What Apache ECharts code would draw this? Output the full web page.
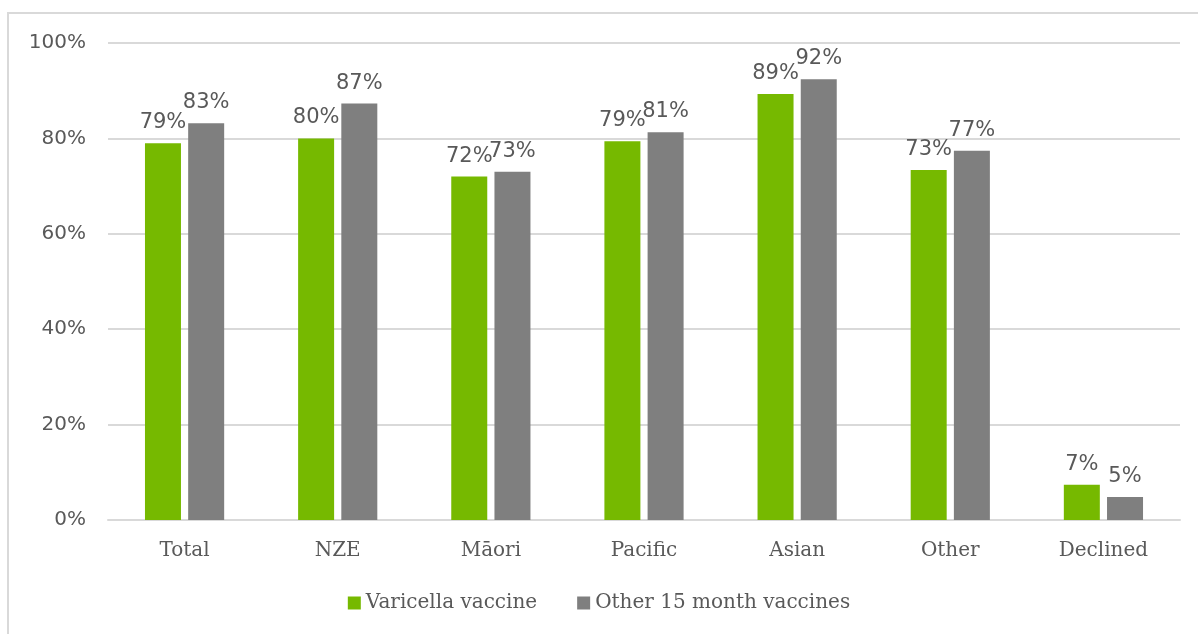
<!DOCTYPE html>
<html>
<head>
<meta charset="utf-8">
<script src="https://cdn.jsdelivr.net/npm/echarts@6/dist/echarts.min.js"></script>
<style>
  html, body { margin: 0; padding: 0; background: #fff; }
  #frame { position: absolute; left: 7px; top: 12px; width: 1200px; height: 640px;
           border-top: 2px solid #d9d9d9; border-left: 2px solid #d9d9d9; }
  #container { position: absolute; left: 0; top: 0; width: 1198px; height: 634px; }
</style>
</head>
<body>
<div id="frame"></div>
<div id="container"></div>
<script>
var categories = ['Total', 'NZE', 'M\u0101ori', 'Pacific', 'Asian', 'Other', 'Declined'];
var varicella = [0.79, 0.80, 0.72, 0.794, 0.893, 0.734, 0.074];
var other15 = [0.832, 0.873, 0.73, 0.813, 0.924, 0.774, 0.048];
var seriesNames = ['Varicella vaccine', 'Other 15 month vaccines'];

var myChart = echarts.init(document.getElementById('container'));

var labelStyle = {
    show: true,
    position: 'top',
    distance: 10,
    color: '#595959',
    fontFamily: 'DejaVu Sans',
    fontSize: 21,
    formatter: function (p) { return Math.round(p.value * 100) + '%'; }
};

var option = {
    animation: false,
    grid: { left: 108, right: 18, top: 43, bottom: 114 },
    legend: {
        data: seriesNames,
        bottom: 16,
        left: 'center',
        itemWidth: 13,
        itemHeight: 13,
        itemGap: 40,
        icon: 'rect',
        textStyle: { color: '#595959', fontFamily: 'DejaVu Serif', fontSize: 20 }
    },
    xAxis: {
        type: 'category',
        data: categories,
        axisLine: { lineStyle: { color: '#d9d9d9', width: 2 } },
        axisTick: { show: false },
        axisLabel: { color: '#595959', fontFamily: 'DejaVu Serif', fontSize: 20, margin: 21 }
    },
    yAxis: {
        type: 'value',
        min: 0,
        max: 1,
        interval: 0.2,
        axisLine: { show: false },
        axisTick: { show: false },
        splitLine: { lineStyle: { color: '#d9d9d9', width: 2 } },
        axisLabel: {
            color: '#595959',
            fontFamily: 'DejaVu Sans',
            fontSize: 20,
            margin: 22,
            formatter: function (v) { return Math.round(v * 100) + '%'; }
        }
    },
    series: [{
        name: seriesNames[0],
        type: 'bar',
        data: varicella,
        barWidth: 36,
        barGap: '20%',
        itemStyle: { color: '#76b900' },
        label: labelStyle
    }, {
        name: seriesNames[1],
        type: 'bar',
        data: other15,
        barWidth: 36,
        itemStyle: { color: '#7f7f7f' },
        label: labelStyle
    }]
};
myChart.setOption(option);
</script>
</body>
</html>
